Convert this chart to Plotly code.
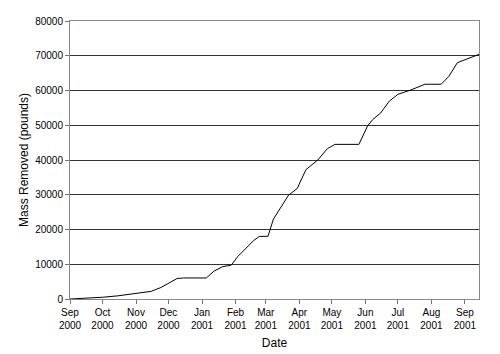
import plotly.graph_objects as go

dates = [
    "2000-09-01", "2000-09-15", "2000-10-01", "2000-10-15", "2000-11-01",
    "2000-11-15", "2000-11-24", "2000-12-09", "2000-12-15", "2001-01-05",
    "2001-01-12", "2001-01-20", "2001-01-28", "2001-02-03", "2001-02-18",
    "2001-02-23", "2001-03-03", "2001-03-08", "2001-03-22", "2001-03-30",
    "2001-04-07", "2001-04-18", "2001-04-27", "2001-05-04", "2001-05-26",
    "2001-06-03", "2001-06-08", "2001-06-15", "2001-06-23", "2001-07-01",
    "2001-07-13", "2001-07-26", "2001-08-10", "2001-08-17", "2001-08-25",
    "2001-09-14",
]
mass_removed = [
    0, 150, 500, 900, 1500,
    2200, 3300, 5900, 6050, 6050,
    8000, 9300, 9750, 12200, 16900,
    18000, 18050, 23000, 29900, 31800,
    37200, 40000, 43300, 44500, 44500,
    49800, 51700, 53500, 56900, 58900,
    60150, 61800, 61800, 64000, 68000,
    70400,
]

fig = go.Figure()
fig.add_trace(go.Scatter(x=dates, y=mass_removed, mode="lines",
                         line=dict(color="black", width=1), showlegend=False))

font_family = "Liberation Sans, Arial, sans-serif"
fig.update_layout(
    width=500, height=354,
    margin=dict(l=70, r=21, t=21, b=55),
    paper_bgcolor="white", plot_bgcolor="white",
    font=dict(family=font_family, size=10, color="black"),
    xaxis=dict(
        type="date",
        range=["2000-09-01", "2001-09-14"],
        dtick="M1", tick0="2000-09-01",
        tickformat="%b<br>%Y",
        tickfont=dict(size=10),
        ticks="outside", ticklen=4, tickcolor="#777",
        showgrid=False, zeroline=False,
        showline=True, linecolor="#888", linewidth=1, mirror=True,
        title=dict(text="Date", font=dict(size=12), standoff=8),
        automargin=False,
    ),
    yaxis=dict(
        range=[0, 80000], dtick=10000, tickformat="d",
        tickfont=dict(size=10),
        ticks="outside", ticklen=4, tickcolor="#777",
        showgrid=True, gridcolor="#333", gridwidth=1,
        zeroline=False,
        showline=True, linecolor="#888", linewidth=1, mirror=True,
        title=dict(text="Mass Removed (pounds)", font=dict(size=12), standoff=3),
        automargin=False,
    ),
)

fig.write_html("out.html")
